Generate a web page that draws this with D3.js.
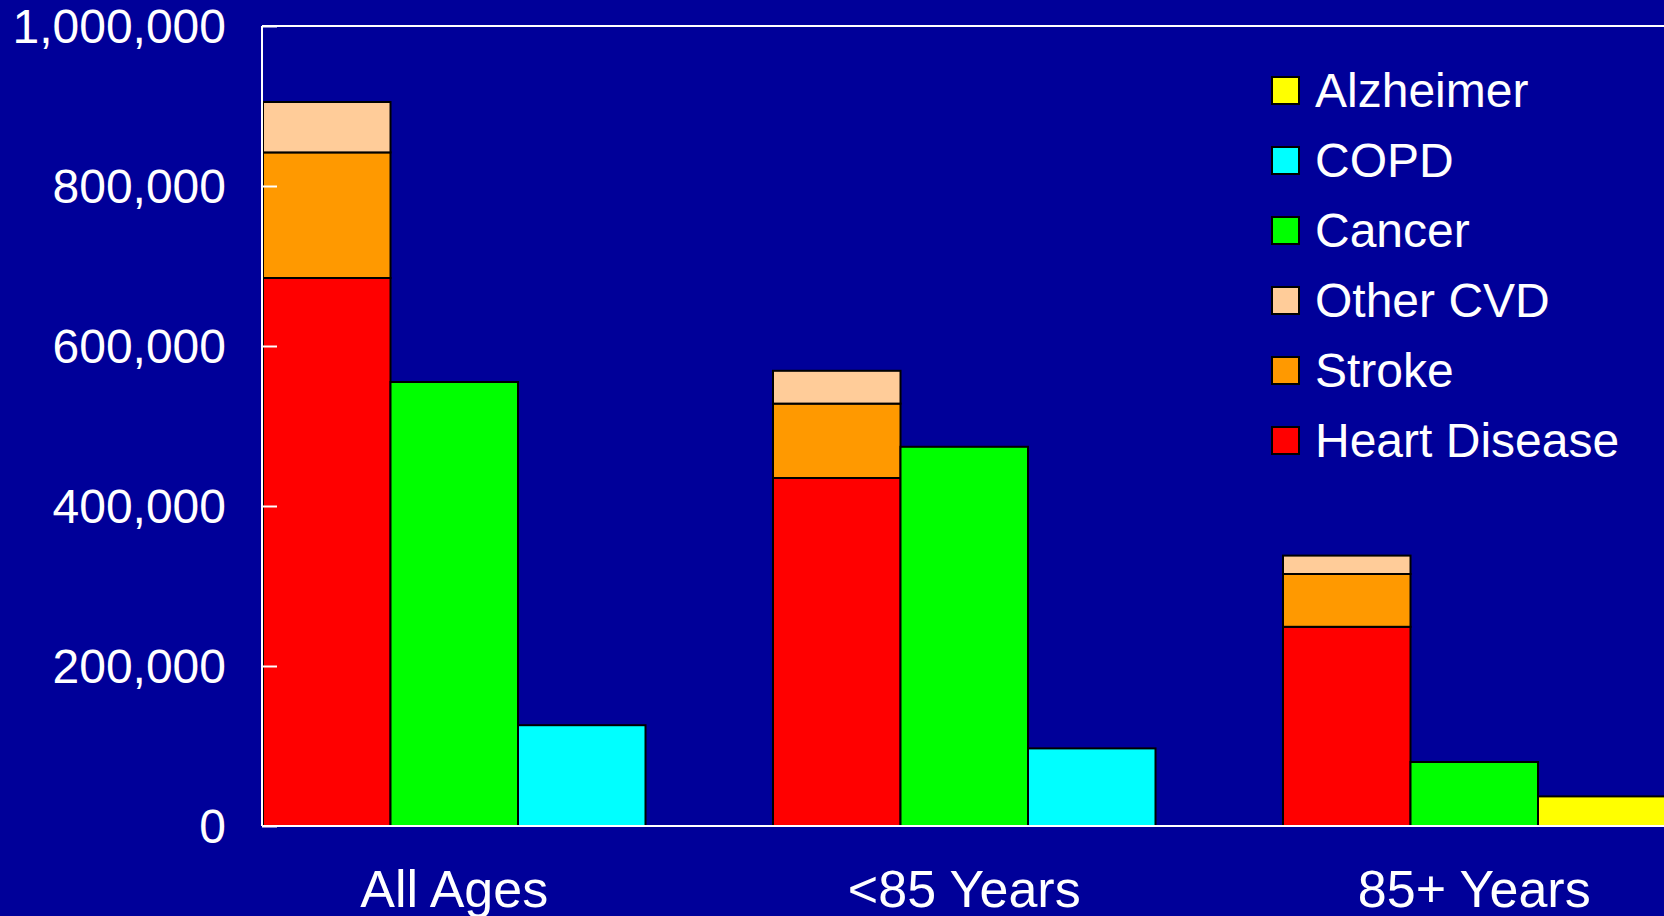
<!DOCTYPE html>
<html>
<head>
<meta charset="utf-8">
<script src="https://cdn.jsdelivr.net/npm/d3@7"></script>
<style>
  html, body { margin: 0; padding: 0; background: #000099; overflow: hidden; }
  svg { display: block; }
  text { font-family: "Liberation Sans", Arial, sans-serif; fill: #ffffff; }
</style>
</head>
<body>
<svg id="chart" width="1664" height="916"></svg>
<script>
// Deaths by cause, grouped by age band
const groups = ["All Ages", "<85 Years", "85+ Years"];
const heartDisease = [685000, 435000, 249000];
const stroke = [157000, 93000, 66000];
const otherCVD = [63000, 41000, 23000];
const cancer = [555000, 474000, 80000];
const copd = [126000, 97000, null];
const alzheimer = [null, null, 37000];
const yTicks = [0, 200000, 400000, 600000, 800000, 1000000];

const legendItems = [
  { name: "Alzheimer", color: "#FFFF00" },
  { name: "COPD", color: "#00FFFF" },
  { name: "Cancer", color: "#00FF00" },
  { name: "Other CVD", color: "#FFCC99" },
  { name: "Stroke", color: "#FF9900" },
  { name: "Heart Disease", color: "#FF0000" }
];
const colorOf = Object.fromEntries(legendItems.map(d => [d.name, d.color]));

const W = 1664, H = 916;
const plot = { left: 262, top: 26, bottom: 826 };

const svg = d3.select("#chart");
svg.append("rect").attr("width", W).attr("height", H).attr("fill", "#000099");

const y = d3.scaleLinear().domain([0, 1000000]).range([plot.bottom, plot.top]);
const x = d3.scaleBand().domain(groups).range([plot.left + 1, 1665.5])
  .paddingInner(0.25).paddingOuter(0);
const slots = ["cvd", "cancer", "third"];
const xs = d3.scaleBand().domain(slots).range([0, x.bandwidth()]);

// Build rectangles: stacked CVD bar, cancer bar, and a third bar (COPD or Alzheimer)
const stackKeys = ["Heart Disease", "Stroke", "Other CVD"];
const stackVals = { "Heart Disease": heartDisease, "Stroke": stroke, "Other CVD": otherCVD };
const rects = [];
groups.forEach((g, i) => {
  let base = 0;
  stackKeys.forEach(k => {
    const v = stackVals[k][i];
    rects.push({ group: g, slot: "cvd", key: k, y0: base, y1: base + v });
    base += v;
  });
  rects.push({ group: g, slot: "cancer", key: "Cancer", y0: 0, y1: cancer[i] });
  if (copd[i] != null) rects.push({ group: g, slot: "third", key: "COPD", y0: 0, y1: copd[i] });
  if (alzheimer[i] != null) rects.push({ group: g, slot: "third", key: "Alzheimer", y0: 0, y1: alzheimer[i] });
});

svg.append("g").selectAll("rect").data(rects).join("rect")
  .attr("x", d => x(d.group) + xs(d.slot))
  .attr("width", xs.bandwidth())
  .attr("y", d => y(d.y1))
  .attr("height", d => y(d.y0) - y(d.y1))
  .attr("fill", d => colorOf[d.key])
  .attr("stroke", "#000000")
  .attr("stroke-width", 2);

// Frame: top border, left axis, baseline
const frame = svg.append("g").attr("stroke", "#ffffff").attr("stroke-width", 2).attr("fill", "none");
frame.append("line").attr("x1", plot.left).attr("x2", W).attr("y1", plot.top).attr("y2", plot.top);
frame.append("line").attr("x1", plot.left).attr("x2", plot.left).attr("y1", plot.top).attr("y2", plot.bottom);
frame.append("line").attr("x1", plot.left).attr("x2", W).attr("y1", plot.bottom).attr("y2", plot.bottom);

// Y axis: inward ticks with labels on the left
const yAxis = d3.axisRight(y).tickValues(yTicks).tickSize(15).tickFormat(d3.format(","));
const yg = svg.append("g").attr("transform", `translate(${plot.left},0)`).call(yAxis);
yg.select(".domain").remove();
yg.selectAll(".tick line").attr("stroke", "#ffffff").attr("stroke-width", 2);
yg.selectAll(".tick text")
  .attr("x", -36).attr("dy", "0.35em")
  .attr("text-anchor", "end")
  .style("font-size", "48px")
  .attr("fill", "#ffffff");

// X axis labels
const xAxis = d3.axisBottom(x).tickSize(0);
const xg = svg.append("g").attr("transform", `translate(0,${plot.bottom})`).call(xAxis);
xg.select(".domain").remove();
xg.selectAll(".tick text")
  .attr("y", 81).attr("dy", 0)
  .style("font-size", "52px")
  .attr("fill", "#ffffff");

// Legend
const legend = svg.append("g").attr("transform", "translate(1272,77)");
const li = legend.selectAll("g").data(legendItems).join("g")
  .attr("transform", (d, i) => `translate(0,${i * 70})`);
li.append("rect").attr("width", 27).attr("height", 27)
  .attr("fill", d => d.color).attr("stroke", "#000000").attr("stroke-width", 2);
li.append("text").attr("x", 43).attr("y", 30)
  .style("font-size", "48px").text(d => d.name);
</script>
</body>
</html>
